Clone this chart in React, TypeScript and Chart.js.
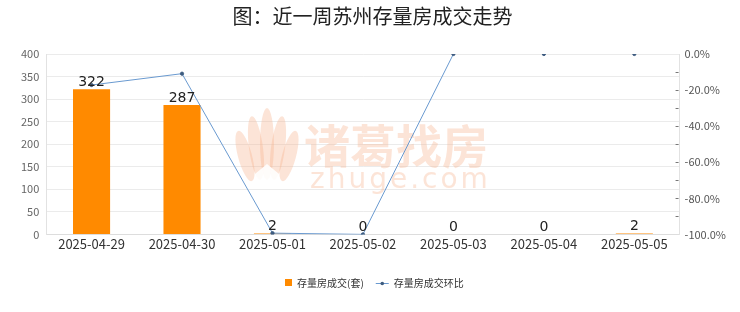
import React, { useEffect, useRef } from "react";
import { Chart, registerables } from "chart.js";

Chart.register(...registerables);

const categories = ["2025-04-29", "2025-04-30", "2025-05-01", "2025-05-02", "2025-05-03", "2025-05-04", "2025-05-05"];
const volumes = [322, 287, 2, 0, 0, 0, 2];
const changeRates = [-17.2, -10.9, -99.3, -100, 0, 0, 0];
const titleText = "图：近一周苏州存量房成交走势";
const volumeLabel = "存量房成交(套)";
const rateLabel = "存量房成交环比";

const FONT = "'Noto Sans CJK SC', 'Noto Sans', sans-serif";
const ORANGE = "#FF8A00";
const LINE_BLUE = "#6A9AD0";
const POINT_DARK = "#3E5C80";

// Faint brand mark in the middle of the plot
const watermark = {
  id: "watermark",
  beforeDatasetsDraw(chart: any) {
    const { ctx } = chart;
    ctx.save();
    const tint = "rgba(246, 178, 140, 0.35)";
    ctx.fillStyle = tint;
    const cx = 267, cy = 152;
    const petals = [
      [-22, 4, 7, 26], [-11, -4, 7, 32], [0, -8, 7, 36], [11, -4, 7, 32], [22, 4, 7, 26],
    ];
    for (const [dx, dy, rx, ry] of petals) {
      ctx.beginPath();
      ctx.ellipse(cx + dx, cy + dy, rx, ry, dx * 0.012, 0, Math.PI * 2);
      ctx.fill();
    }
    ctx.fillStyle = "rgba(255,255,255,0.9)";
    ctx.beginPath();
    ctx.moveTo(cx - 12, cy + 22);
    ctx.lineTo(cx, cy + 12);
    ctx.lineTo(cx + 12, cy + 22);
    ctx.lineTo(cx + 12, cy + 32);
    ctx.lineTo(cx - 12, cy + 32);
    ctx.closePath();
    ctx.fill();
    ctx.fillStyle = tint;
    ctx.textAlign = "left";
    ctx.textBaseline = "middle";
    ctx.font = `bold 46px ${FONT}`;
    ctx.fillText("诸葛找房", 304, 146);
    ctx.font = `28px 'DejaVu Sans', sans-serif`;
    (ctx as any).letterSpacing = "3px";
    ctx.fillText("zhuge.com", 310, 181);
    ctx.restore();
  },
};

// Value labels above each bar
const barValues = {
  id: "barValues",
  afterDatasetsDraw(chart: any) {
    const { ctx } = chart;
    const meta = chart.getDatasetMeta(0);
    ctx.save();
    ctx.fillStyle = "#222";
    ctx.font = `14px 'DejaVu Sans', sans-serif`;
    ctx.textAlign = "center";
    ctx.textBaseline = "bottom";
    meta.data.forEach((bar: any, i: number) => {
      ctx.fillText(String(volumes[i]), bar.x, bar.y);
    });
    ctx.restore();
  },
};

// Short tick marks just inside the right edge of the plot
const rightTicks = {
  id: "rightTicks",
  afterDatasetsDraw(chart: any) {
    const { ctx, chartArea } = chart;
    const scale = chart.scales.y1;
    ctx.save();
    ctx.strokeStyle = "#777";
    ctx.lineWidth = 1;
    for (let v = -90; v < 0; v += 10) {
      const y = Math.round(scale.getPixelForValue(v)) + 0.5;
      ctx.beginPath();
      ctx.moveTo(chartArea.right - 4, y);
      ctx.lineTo(chartArea.right - 1, y);
      ctx.stroke();
    }
    ctx.restore();
  },
};

// Legend row under the axis
const bottomLegend = {
  id: "bottomLegend",
  afterDraw(chart: any) {
    const { ctx } = chart;
    const y = 283;
    ctx.save();
    ctx.font = `10px ${FONT}`;
    ctx.textBaseline = "middle";
    ctx.textAlign = "left";
    const w1 = ctx.measureText(volumeLabel).width;
    let x = 285;
    ctx.fillStyle = ORANGE;
    ctx.fillRect(x, y - 4, 7, 7);
    x += 12;
    ctx.fillStyle = "#333";
    ctx.fillText(volumeLabel, x, y);
    x += w1 + 12;
    ctx.strokeStyle = LINE_BLUE;
    ctx.lineWidth = 1;
    ctx.beginPath();
    ctx.moveTo(x, y + 0.5);
    ctx.lineTo(x + 13, y + 0.5);
    ctx.stroke();
    ctx.fillStyle = POINT_DARK;
    ctx.beginPath();
    ctx.arc(x + 6.5, y + 0.5, 1.8, 0, Math.PI * 2);
    ctx.fill();
    x += 18;
    ctx.fillStyle = "#333";
    ctx.fillText(rateLabel, x, y);
    ctx.restore();
  },
};

export default function App() {
  const ref = useRef<HTMLCanvasElement>(null);

  useEffect(() => {
    if (!ref.current) return;
    const chart = new Chart(ref.current, {
      type: "bar",
      data: {
        labels: categories,
        datasets: [
          {
            type: "bar",
            label: volumeLabel,
            data: volumes,
            backgroundColor: ORANGE,
            borderColor: ORANGE,
            borderWidth: 0,
            barPercentage: 0.82,
            categoryPercentage: 0.5,
            yAxisID: "y",
            order: 2,
          },
          {
            type: "line",
            label: rateLabel,
            data: changeRates,
            borderColor: LINE_BLUE,
            borderWidth: 1,
            backgroundColor: POINT_DARK,
            pointBackgroundColor: POINT_DARK,
            pointBorderColor: POINT_DARK,
            pointRadius: 1.6,
            pointStyle: "circle",
            tension: 0,
            yAxisID: "y1",
            order: 1,
            segment: {
              borderColor: (c: any) => (c.p0DataIndex >= 4 ? "rgba(0,0,0,0)" : LINE_BLUE),
            },
          } as any,
        ],
      },
      options: {
        animation: false,
        responsive: false,
        layout: { padding: { left: 14, right: 9, top: 0, bottom: 58 } },
        plugins: {
          title: {
            display: true,
            text: titleText,
            color: "#222",
            font: { family: FONT, size: 20, weight: "normal" },
            padding: { top: 4, bottom: 26 },
          },
          legend: { display: false },
          tooltip: { enabled: false },
        },
        scales: {
          x: {
            grid: { display: false, drawTicks: false },
            border: { color: "#ddd" },
            ticks: { color: "#333", font: { family: FONT, size: 13 }, padding: 2, maxRotation: 0 },
          },
          y: {
            position: "left",
            min: 0,
            max: 400,
            ticks: { stepSize: 50, color: "#666", font: { family: FONT, size: 11 }, padding: 7 },
            grid: { color: "#ebebeb", drawTicks: false },
            border: { color: "#e2e2e2" },
          },
          y1: {
            position: "right",
            min: -100,
            max: 0,
            ticks: {
              stepSize: 20,
              color: "#555",
              font: { family: FONT, size: 11 },
              padding: 5,
              callback: (v: any) => `${Math.round(v)}.0%`,
            },
            grid: { drawOnChartArea: false, drawTicks: false },
            border: { color: "#e2e2e2" },
          },
        },
      },
      plugins: [watermark, barValues, rightTicks, bottomLegend],
    });
    return () => chart.destroy();
  }, []);

  return (
    <div style={{ position: "fixed", left: 0, top: 0, width: 740, height: 312, background: "#fff" }}>
      <canvas ref={ref} width={740} height={312} />
    </div>
  );
}
